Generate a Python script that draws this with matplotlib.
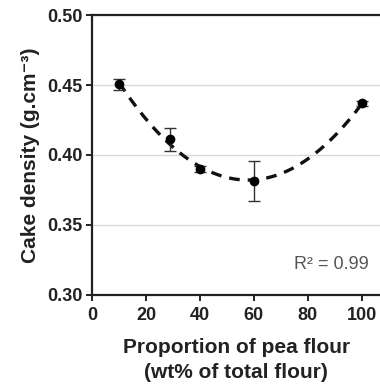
import numpy as np
import matplotlib
matplotlib.use("Agg")
import matplotlib.pyplot as plt

plt.rcParams['font.family'] = ['Liberation Sans', 'DejaVu Sans']

# pea flour proportion (wt%) and measured cake density
pea_flour = [10, 29, 40, 60, 100]
density = [0.4505, 0.4112, 0.3898, 0.3814, 0.4369]
density_err = [0.004, 0.008, 0.002, 0.0143, 0.002]

x_ticks = [0, 20, 40, 60, 80, 100]
y_ticks = [0.30, 0.35, 0.40, 0.45, 0.50]

fig = plt.figure(figsize=(3.8, 3.86), dpi=100)
ax = fig.add_axes([0.242, 0.236, 0.76, 0.725])

# quadratic trend line like the spreadsheet one
coef = np.polyfit(pea_flour, density, 2)
xs = np.linspace(min(pea_flour), max(pea_flour), 200)
ax.plot(xs, np.polyval(coef, xs), color='#111111', lw=2.4, ls=(0, (3.2, 2.4)), zorder=2)

ax.errorbar(pea_flour, density, yerr=density_err, fmt='o', color='black', ms=6,
            ecolor='#333333', elinewidth=1, capsize=4, capthick=1, zorder=3)

ax.set_xlim(0, 107)
ax.set_ylim(0.30, 0.50)
ax.set_xticks(x_ticks)
ax.set_yticks(y_ticks)
ax.set_yticklabels([f"{v:.2f}" for v in y_ticks])
ax.yaxis.grid(True, color='#d9d9d9', lw=1)
ax.set_axisbelow(True)

for s in ['left', 'bottom', 'top']:
    ax.spines[s].set_linewidth(1.6)
    ax.spines[s].set_color('#222222')
ax.spines['right'].set_visible(False)

ax.tick_params(direction='out', length=4, width=1.4, color='#222222',
               labelsize=13, pad=3)
ax.tick_params(axis='x', pad=5)
for lab in ax.get_xticklabels() + ax.get_yticklabels():
    lab.set_fontweight('bold')
    lab.set_color('#222222')

ax.set_ylabel("Cake density (g.cm\u207b\u00b3)", fontsize=15, fontweight='bold',
              color='#222222', labelpad=5)
ax.set_xlabel("Proportion of pea flour\n(wt% of total flour)", fontsize=15,
              fontweight='bold', color='#222222', labelpad=10, linespacing=1.35)

ax.text(0.959, 0.107, "R² = 0.99", transform=ax.transAxes, fontsize=13,
        color='#555555', ha='right', va='center')

fig.savefig("out.png", dpi=100)
